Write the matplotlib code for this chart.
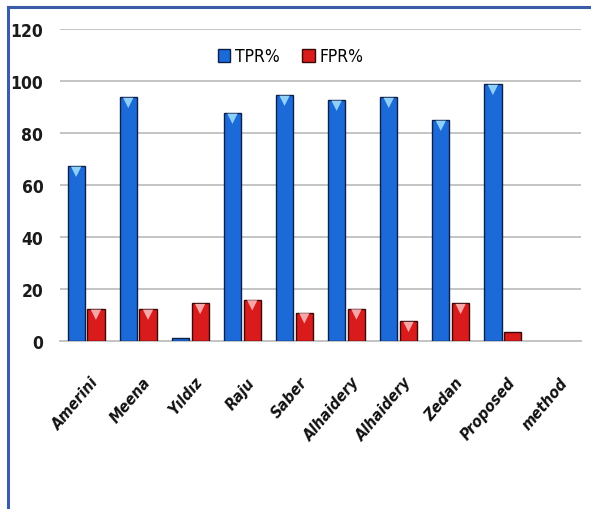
import numpy as np
import matplotlib
matplotlib.use("Agg")
import matplotlib.pyplot as plt
from matplotlib.lines import Line2D
from matplotlib.patches import Patch

plt.rcParams["font.family"] = ["DejaVu Sans"]
plt.rcParams["font.stretch"] = "condensed"

methods = ["Amerini", "Meena", "Yıldız", "Raju", "Saber",
           "Alhaidery", "Alhaidery", "Zedan", "Proposed", "method"]
tpr = [67.3, 93.8, 1.2, 87.7, 94.6, 92.7, 93.8, 85.0, 98.8, np.nan]
fpr = [12.3, 12.3, 14.5, 15.9, 10.9, 12.4, 7.6, 14.5, 3.5, np.nan]

BLUE = "#1c6ad8"
BLUE_EDGE = "#0b1f4a"
BLUE_TIP = "#8fd0fa"
RED = "#d91b1b"
RED_EDGE = "#3a0808"
RED_TIP = "#f7a7a7"


def main():
    fig = plt.figure(figsize=(5.91, 5.10), dpi=100)
    ax = fig.add_axes([0.1015, 0.3294, 0.8815, 0.6116])

    x = np.arange(len(methods))
    w = 0.33
    gap = 0.025

    ax.bar(x - w / 2 - gap, tpr, w, color=BLUE, edgecolor=BLUE_EDGE,
           linewidth=1.0, zorder=3)
    ax.bar(x + w / 2 + gap, fpr, w, color=RED, edgecolor=RED_EDGE,
           linewidth=1.0, zorder=3)

    # small light triangles at bar tops (3D look of the original)
    t = np.array(tpr, dtype=float)
    f = np.array(fpr, dtype=float)
    keep_t = t > 5
    keep_f = f > 5
    ax.scatter((x - w / 2 - gap)[keep_t], t[keep_t] - 2.2, marker="v", s=55,
               color=BLUE_TIP, edgecolor="none", zorder=4)
    ax.scatter((x + w / 2 + gap)[keep_f], f[keep_f] - 2.2, marker="v", s=55,
               color=RED_TIP, edgecolor="none", zorder=4)

    ax.set_xlim(-0.5, len(methods) - 0.5)
    ax.set_ylim(0, 120)
    ax.set_yticks(range(0, 121, 20))
    ax.yaxis.grid(True, color="#c4c4c4", linewidth=1.4, zorder=0)
    ax.set_axisbelow(True)
    for s in ["top", "right", "left"]:
        ax.spines[s].set_visible(False)
    ax.spines["bottom"].set_color("#c4c4c4")
    ax.spines["bottom"].set_linewidth(1.4)
    ax.tick_params(axis="both", length=0)
    ax.tick_params(axis="y", pad=12)

    for lab in ax.get_yticklabels():
        lab.set_fontsize(12.5)
        lab.set_fontweight("bold")
        lab.set_color("#1a1a1a")

    ax.set_xticks(x + 0.08)
    ax.set_xticklabels(methods, rotation=50, ha="right",
                       rotation_mode="anchor", fontsize=11.5,
                       fontweight="bold", fontstyle="italic", color="#111111")
    ax.tick_params(axis="x", pad=24)

    handles = [Patch(facecolor=BLUE, edgecolor=BLUE_EDGE, label="TPR%"),
               Patch(facecolor=RED, edgecolor=RED_EDGE, label="FPR%")]
    ax.legend(handles=handles, loc="center", bbox_to_anchor=(0.443, 0.913),
              ncol=2, frameon=False, fontsize=12.5, handlelength=0.7,
              handleheight=0.8, handletextpad=0.3, columnspacing=1.3)

    # blue frame on left and top of the figure
    bx = 8 / 591
    by = 1 - 8 / 510
    fig.add_artist(Line2D([bx, bx], [0, by], color="#3b5ca8", linewidth=2.2,
                          transform=fig.transFigure))
    fig.add_artist(Line2D([bx, 1], [by, by], color="#3b5ca8", linewidth=2.2,
                          transform=fig.transFigure))

    fig.savefig("out.png", dpi=100)
    plt.close(fig)


if __name__ == "__main__":
    main()
